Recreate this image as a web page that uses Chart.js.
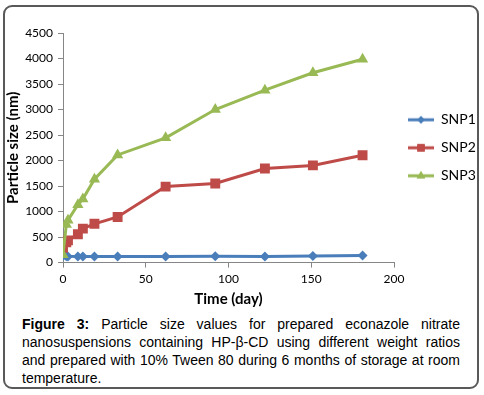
<!DOCTYPE html>
<html>
<head>
<meta charset="utf-8">
<script src="https://cdn.jsdelivr.net/npm/chart.js@4.4.1/dist/chart.umd.min.js"></script>
<style>
  html, body { margin: 0; padding: 0; background: #fff; }
  body { width: 484px; height: 395px; position: relative; overflow: hidden; }
  .frame {
    position: absolute; left: 3px; top: 5px; width: 472px; height: 380px;
    border: 2px solid #595959; border-radius: 9px;
  }
  .plot { position: absolute; left: 0; top: 0; width: 484px; height: 310px; }
  .caption {
    position: absolute; left: 22px; top: 315px; width: 438px;
    font-family: "Liberation Sans", Arial, sans-serif; font-size: 14px;
    line-height: 18px; text-align: justify; color: #000;
  }
</style>
</head>
<body>
<div class="frame"></div>
<div class="plot"><canvas id="myChart" width="484" height="310"></canvas></div>
<div class="caption"><b>Figure 3:</b> Particle size values for prepared econazole nitrate nanosuspensions containing HP-β-CD using different weight ratios and prepared with 10% Tween 80 during 6 months of storage at room temperature.</div>
<script>
// storage time (day)
const days = [0, 2, 3, 9, 12, 19, 33, 62, 92, 122, 151, 181];
const snp1 = [130, 125, 122, 120, 122, 118, 120, 118, 125, 122, 130, 137];
const snp2 = [290, 400, 435, 555, 665, 760, 895, 1490, 1550, 1845, 1905, 2105];
const snp3 = [155, 745, 830, 1135, 1245, 1635, 2110, 2445, 3000, 3380, 3720, 3985];
const seriesNames = ['SNP1', 'SNP2', 'SNP3'];
const xTicks = [0, 50, 100, 150, 200];

const colors = ['#4a7ebb', '#be4b48', '#98b954'];
const styles = ['rectRot', 'rect', 'triangle'];
const radii = [5, 7, 6.5];

function toPoints(ys) {
  return days.map((d, i) => ({x: d, y: ys[i]}));
}

// little line + marker picture for the legend
function legendIcon(i) {
  const c = document.createElement('canvas');
  c.width = 26; c.height = 12;
  const g = c.getContext('2d');
  g.strokeStyle = colors[i];
  g.lineWidth = 3;
  g.beginPath(); g.moveTo(0, 6); g.lineTo(26, 6); g.stroke();
  g.fillStyle = colors[i];
  Chart.helpers.drawPoint(g, {pointStyle: styles[i], radius: radii[i] * 0.75, rotation: 0}, 13, 6);
  g.fill();
  return c;
}

const ctx = document.getElementById('myChart').getContext('2d');

const myChart = new Chart(ctx, {
  type: 'line',
  data: {
    datasets: [snp1, snp2, snp3].map((ys, i) => ({
      label: seriesNames[i],
      data: toPoints(ys),
      borderColor: colors[i],
      backgroundColor: colors[i],
      borderWidth: 3,
      pointStyle: styles[i],
      pointRadius: radii[i],
      pointBorderWidth: 0,
      pointBackgroundColor: colors[i],
      order: 3 - i,
      tension: 0
    }))
  },
  options: {
    responsive: false,
    animation: false,
    layout: { padding: { top: 33, right: 0, left: 0, bottom: 0 } },
    plugins: {
      tooltip: { enabled: false },
      legend: {
        position: 'right',
        fullSize: false,
        maxWidth: 90,
        labels: {
          usePointStyle: true,
          pointStyleWidth: 26,
          boxHeight: 12,
          padding: 14,
          color: '#000',
          font: { family: 'Lato', size: 14 },
          sort: (a, b) => a.datasetIndex - b.datasetIndex,
          generateLabels: (chart) => chart.data.datasets.map((ds, i) => ({
            text: ds.label,
            pointStyle: legendIcon(i),
            fillStyle: colors[i],
            strokeStyle: colors[i],
            lineWidth: 0,
            fontColor: '#000',
            datasetIndex: i
          }))
        }
      }
    },
    scales: {
      x: {
        type: 'linear',
        min: 0,
        max: 200,
        afterBuildTicks: (axis) => { axis.ticks = xTicks.map(v => ({value: v})); },
        grid: { drawOnChartArea: false, drawTicks: true, tickLength: 5, color: '#868686' },
        border: { color: '#868686', width: 1 },
        ticks: { color: '#000', padding: 4, maxRotation: 0, font: { family: 'Lato', size: 12 }, callback: v => String(v) },
        title: {
          display: true, text: 'Time (day)', color: '#000',
          font: { family: 'Lato', size: 15, weight: 'bold' }, padding: { top: 0, bottom: 2 }
        }
      },
      y: {
        min: 0,
        max: 4500,
        ticks: { stepSize: 500, color: '#000', padding: 5, font: { family: 'Lato', size: 12 }, callback: v => String(v) },
        grid: { drawOnChartArea: false, drawTicks: true, tickLength: 5, color: '#868686' },
        border: { color: '#868686', width: 1 },
        afterFit: (axis) => { axis.width = 63; },
        title: {
          display: true, text: 'Particle size (nm)', color: '#000',
          font: { family: 'Lato', size: 15, weight: 'bold' }, padding: { top: 4, bottom: 4 }
        }
      }
    }
  }
});
</script>
</body>
</html>
